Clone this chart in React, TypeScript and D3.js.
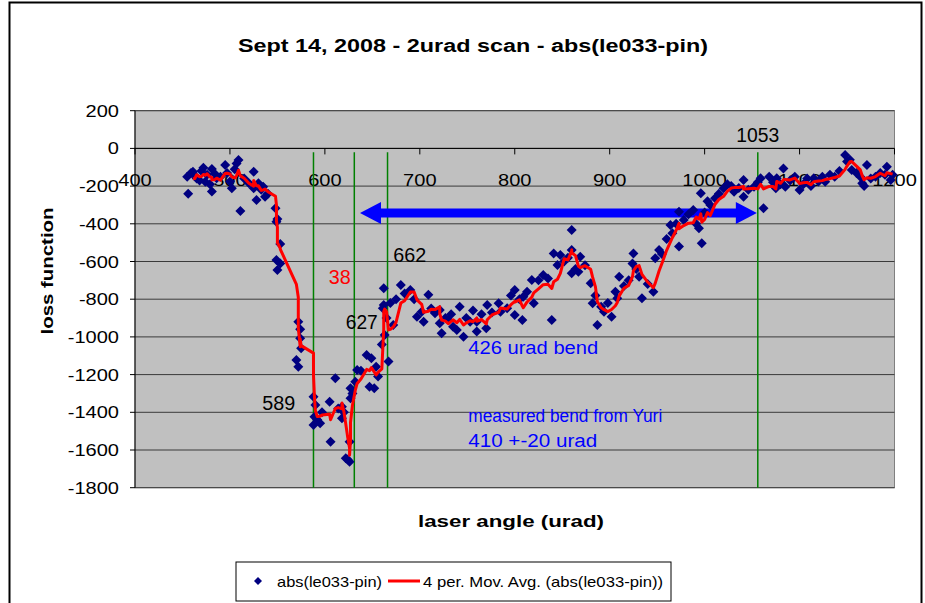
import React, { useEffect, useRef } from 'react';
import * as d3 from 'd3';

// laser angle ticks and loss-function ticks
const X_TICKS = [400, 500, 600, 700, 800, 900, 1000, 1100, 1200];
const Y_TICKS = [200, 0, -200, -400, -600, -800, -1000, -1200, -1400, -1600, -1800];

// abs(le033-pin) readings, [laser angle (urad), loss function]
const SCAN: [number, number][] = [
  [455, -150], [456, -240], [459, -130], [461, -124], [463, -145], [465, -160], [468, -170], [470, -120],
  [472, -102], [474, -177], [476, -140], [479, -190], [481, -109], [481, -229], [484, -135], [486, -159],
  [490, -150], [495, -88], [497, -130], [500, -175], [502, -212], [505, -110], [507, -80], [509, -61],
  [511, -332], [515, -160], [520, -185], [525, -124], [525, -212], [528, -274], [530, -185], [533, -220],
  [535, -203], [537, -256], [540, -240],
  [548, -318], [549, -389], [550, -375], [553, -507], [549, -592], [550, -645], [553, -610],
  [572, -919], [574, -1007], [574, -960], [570, -1123], [572, -1158], [575, -1060],
  [588, -1317], [590, -1361], [589, -1423], [588, -1467], [592, -1440], [595, -1458], [597, -1400],
  [605, -1344], [606, -1556], [611, -1220], [614, -1380], [618, -1370], [618, -1432], [620, -1400],
  [622, -1644], [624, -1650], [626, -1662], [626, -1556], [627, -1326], [627, -1273], [629, -1300],
  [632, -1238], [634, -1176], [638, -1180], [644, -1096], [647, -1264], [649, -1113], [652, -1273],
  [654, -1158], [656, -1210], [660, -1040], [661, -848], [662, -742], [662, -831], [663, -990],
  [665, -900], [667, -1131], [669, -820],
  [672, -937], [675, -800], [680, -725], [684, -770], [690, -751], [694, -800], [697, -893], [702, -866],
  [704, -919], [709, -777], [712, -850], [716, -875], [721, -857], [721, -928], [723, -981], [727, -900],
  [730, -911], [733, -880], [735, -946], [739, -963], [742, -840], [746, -999], [749, -900], [753, -919],
  [756, -860], [760, -919], [760, -972], [765, -880], [770, -954], [771, -831], [776, -870], [783, -822],
  [785, -866], [792, -848], [796, -780], [800, -751], [800, -884],
  [805, -800], [808, -911], [809, -787], [813, -760], [818, -698], [820, -822], [825, -700], [830, -672],
  [835, -690], [839, -911], [841, -557], [845, -619], [848, -566], [852, -600], [856, -580], [860, -433],
  [860, -539], [860, -663], [864, -640], [867, -654], [869, -575], [874, -620], [880, -716], [882, -822],
  [885, -780], [887, -937], [891, -840], [894, -866], [898, -820], [902, -893], [906, -760], [908, -795],
  [910, -681], [915, -730], [920, -700], [924, -610], [925, -557], [928, -640], [931, -681], [934, -795],
  [940, -720], [946, -760], [948, -583], [952, -539], [955, -560],
  [960, -480], [964, -406], [966, -450], [970, -400], [973, -336], [973, -521], [978, -380], [983, -350],
  [988, -327], [991, -400], [994, -424], [996, -238], [997, -503], [1000, -340], [1003, -280], [1006, -300],
  [1011, -265], [1015, -240], [1020, -212], [1024, -190], [1028, -200], [1031, -230], [1036, -210],
  [1041, -168], [1041, -256], [1046, -220], [1052, -203], [1056, -180], [1059, -159], [1062, -318],
  [1068, -150], [1072, -180], [1075, -212], [1076, -159], [1080, -190], [1083, -106],
  [1085, -203], [1090, -170], [1095, -150], [1100, -221], [1104, -190], [1108, -160], [1112, -200],
  [1115, -159], [1120, -175], [1124, -150], [1127, -177], [1132, -140], [1137, -150], [1142, -120],
  [1148, -35], [1150, -70], [1153, -60], [1155, -115], [1160, -130], [1164, -150], [1166, -185],
  [1168, -200], [1171, -88], [1175, -160], [1180, -150], [1185, -130], [1190, -140], [1192, -97],
  [1196, -168], [1198, -140],
];

// vertical marker lines (urad)
const MARKERS = [588, 631, 666, 1056];
const PERIOD = 4;

const FONT = '"Liberation Sans", Arial, sans-serif';

const App = () => {
  const ref = useRef<SVGSVGElement>(null);

  useEffect(() => {
    const svg = d3.select(ref.current);
    svg.selectAll('*').remove();

    var left = 135,
      right = 894.5,
      top = 110.7,
      bottom = 487.7;

    var x = d3.scaleLinear().domain([400, 1200]).range([left, right]);
    var y = d3.scaleLinear().domain([-1800, 200]).range([bottom, top]);

    // helper for text, optionally squeezed to a given width
    const label = (
      px: number,
      py: number,
      str: string,
      o: { size?: number; anchor?: string; fill?: string; weight?: string | number; len?: number; sx?: number } = {}
    ) => {
      const g = svg.append('g').attr('transform', `translate(${px},${py}) scale(${o.sx || 1},1)`);
      const t = g
        .append('text')
        .attr('font-family', FONT)
        .attr('font-size', o.size || 16)
        .attr('font-weight', o.weight || 'normal')
        .attr('fill', o.fill || '#000')
        .attr('text-anchor', o.anchor || 'start')
        .text(str);
      if (o.len) t.attr('textLength', o.len).attr('lengthAdjust', 'spacingAndGlyphs');
      return g;
    };

    // outer chart frame
    svg
      .append('rect')
      .attr('x', 9.5)
      .attr('y', 2.5)
      .attr('width', 912)
      .attr('height', 640)
      .attr('fill', '#fff')
      .attr('stroke', '#000')
      .attr('stroke-width', 2);

    // plot area
    svg
      .append('rect')
      .attr('x', left)
      .attr('y', top)
      .attr('width', right - left)
      .attr('height', bottom - top)
      .attr('fill', '#c0c0c0')
      .attr('stroke', '#808080')
      .attr('stroke-width', 1);

    // gridlines
    svg
      .append('g')
      .selectAll('line')
      .data(Y_TICKS)
      .enter()
      .append('line')
      .attr('x1', left)
      .attr('x2', right)
      .attr('y1', d => y(d))
      .attr('y2', d => y(d))
      .attr('stroke', '#3a3a3a')
      .attr('stroke-width', 1);

    // y axis
    svg.append('line').attr('x1', left).attr('x2', left).attr('y1', top).attr('y2', bottom).attr('stroke', '#000');
    Y_TICKS.forEach(t => {
      svg.append('line').attr('x1', left - 5).attr('x2', left).attr('y1', y(t)).attr('y2', y(t)).attr('stroke', '#000');
      label(left - 16, y(t) + 6, String(t), { size: 17, anchor: 'end', sx: 1.18 });
    });

    // x axis crosses at 0
    svg.append('line').attr('x1', left).attr('x2', right).attr('y1', y(0)).attr('y2', y(0)).attr('stroke', '#000');
    X_TICKS.forEach(t => {
      svg.append('line').attr('x1', x(t)).attr('x2', x(t)).attr('y1', y(0)).attr('y2', y(0) + 6).attr('stroke', '#000');
      label(x(t), y(0) + 38, String(t), { size: 17, anchor: 'middle', sx: 1.18 });
    });

    // green marker lines
    svg
      .append('g')
      .selectAll('line')
      .data(MARKERS)
      .enter()
      .append('line')
      .attr('x1', d => x(d))
      .attr('x2', d => x(d))
      .attr('y1', y(-20))
      .attr('y2', bottom)
      .attr('stroke', '#008000')
      .attr('stroke-width', 1.5);

    // blue double arrow (bend width)
    const ax0 = x(637),
      ax1 = x(1055),
      ay = y(-343),
      head = 21,
      hw = 11,
      sw = 4.5;
    svg
      .append('path')
      .attr(
        'd',
        `M${ax0},${ay} L${ax0 + head},${ay - hw} L${ax0 + head},${ay - sw} L${ax1 - head},${ay - sw} L${ax1 - head},${ay - hw} L${ax1},${ay} L${ax1 - head},${ay + hw} L${ax1 - head},${ay + sw} L${ax0 + head},${ay + sw} L${ax0 + head},${ay + hw} Z`
      )
      .attr('fill', '#0000ff');

    // scatter points
    const diamond = d3.symbol().type(d3.symbolSquare).size(50);
    svg
      .append('g')
      .selectAll('path')
      .data(SCAN)
      .enter()
      .append('path')
      .attr('d', diamond())
      .attr('transform', d => `translate(${x(d[0])},${y(d[1])}) rotate(45)`)
      .attr('fill', '#000080');

    // 4 period moving average
    const sorted = SCAN.slice().sort((a, b) => a[0] - b[0]);
    const avg: [number, number][] = [];
    for (let i = PERIOD - 1; i < sorted.length; i++) {
      avg.push([sorted[i][0], d3.mean(sorted.slice(i - PERIOD + 1, i + 1), d => d[1]) as number]);
    }
    svg
      .append('path')
      .datum(avg)
      .attr(
        'd',
        d3
          .line<[number, number]>()
          .x(d => x(d[0]))
          .y(d => y(d[1]))
      )
      .attr('fill', 'none')
      .attr('stroke', '#ff0000')
      .attr('stroke-width', 3)
      .attr('stroke-linejoin', 'round');

    // annotations
    label(x(1056), y(34), '1053', { size: 20, anchor: 'middle', len: 43 });
    label(x(672), y(-603), '662', { size: 20, len: 33 });
    label(x(604), y(-720), '38', { size: 20, fill: '#ff0000', len: 22 });
    label(x(622), y(-958), '627', { size: 20, len: 32 });
    label(x(534), y(-1388), '589', { size: 20, len: 33 });
    label(x(751), y(-1091), '426 urad bend', { size: 18, fill: '#0000ff', len: 130 });
    label(x(751), y(-1451), 'measured bend from Yuri', { size: 18, fill: '#0000ff', len: 194 });
    label(x(751), y(-1584), '410 +-20 urad', { size: 18, fill: '#0000ff', len: 129 });

    // titles
    label(473, 52, 'Sept 14, 2008 - 2urad scan - abs(le033-pin)', { size: 18, weight: 'bold', anchor: 'middle', len: 470 });
    label(511, 527, 'laser angle (urad)', { size: 17, weight: 'bold', anchor: 'middle', len: 186 });
    label(53, 271, 'loss function', { size: 17, weight: 'bold', anchor: 'middle', len: 127 }).attr(
      'transform',
      'translate(53,271) rotate(-90)'
    );

    // legend
    svg
      .append('rect')
      .attr('x', 236)
      .attr('y', 562)
      .attr('width', 435)
      .attr('height', 39)
      .attr('fill', '#fff')
      .attr('stroke', '#000');
    svg
      .append('path')
      .attr('d', d3.symbol().type(d3.symbolSquare).size(32)())
      .attr('transform', 'translate(258,581) rotate(45)')
      .attr('fill', '#000080');
    label(277, 587, 'abs(le033-pin)', { size: 15, len: 105 });
    svg.append('line').attr('x1', 388).attr('x2', 420).attr('y1', 581).attr('y2', 581).attr('stroke', '#ff0000').attr('stroke-width', 3);
    label(423, 587, '4 per. Mov. Avg. (abs(le033-pin))', { size: 15, len: 240 });
  }, []);

  return <svg ref={ref} width={925} height={603} style={{ position: 'absolute', left: 0, top: 0, background: '#fff' }} />;
};

export default App;
